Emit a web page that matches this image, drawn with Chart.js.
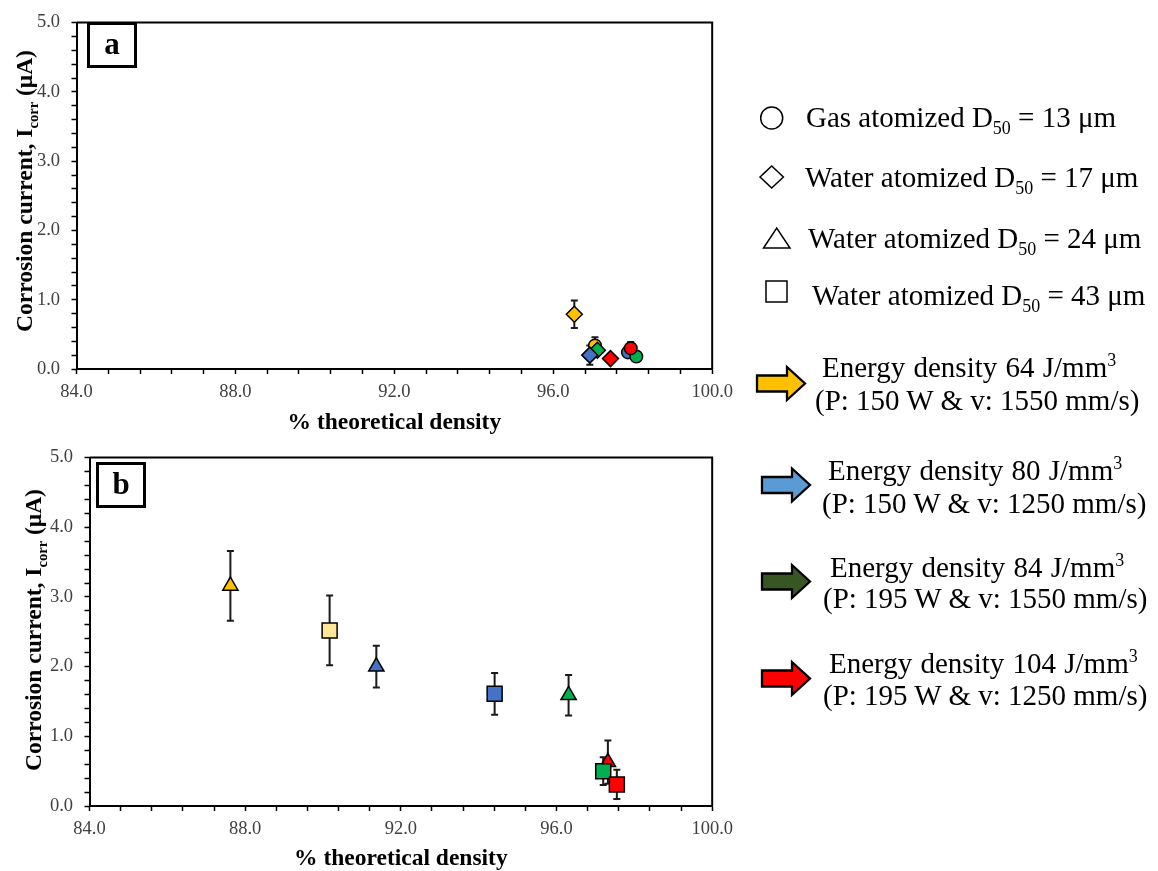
<!DOCTYPE html>
<html>
<head>
<meta charset="utf-8">
<title>Corrosion current vs theoretical density</title>
<script src="https://cdn.jsdelivr.net/npm/chart.js@4.4.0/dist/chart.umd.min.js"></script>
<style>
  body { margin: 0; background: #fff; font-family: "Liberation Serif", "Times New Roman", serif; }
  #page { position: relative; width: 1158px; height: 871px; overflow: hidden; }
  canvas { position: absolute; left: 0; }
  .ytitle { position: absolute; font-weight: bold; font-size: 23.5px; line-height: 24px; white-space: nowrap; transform: translate(-50%, -50%) rotate(-90deg); }
  .tag { position: absolute; box-sizing: border-box; border: 3px solid #000; width: 50px; height: 46px; font-weight: bold; font-size: 31px; line-height: 38px; text-align: center; }
  .leg { position: absolute; font-size: 29px; line-height: 28px; white-space: nowrap; }
  sub, sup { font-size: 0.62em; line-height: 0; }
  #symbols { position: absolute; left: 0; top: 0; }
</style>
</head>
<body>
<div id="page">
  <canvas id="chartA" width="740" height="435" style="top:0"></canvas>
  <canvas id="chartB" width="740" height="436" style="top:435px"></canvas>

  <div class="ytitle" style="left:24px; top:191px">Corrosion current, I<sub>corr</sub> (μA)</div>
  <div class="ytitle" style="left:33px; top:630px">Corrosion current, I<sub>corr</sub> (μA)</div>
  <div class="tag" style="left:87px; top:22px">a</div>
  <div class="tag" style="left:96px; top:462px">b</div>

  <svg id="symbols" width="1158" height="871">
    <g fill="#fff" stroke="#000" stroke-width="1.5">
      <circle cx="771.7" cy="118" r="11"/>
      <polygon points="760,177 771.7,166 783.4,177 771.7,188"/>
      <polygon points="763.5,248 790,248 776.7,228"/>
      <rect x="766" y="281" width="21" height="21"/>
    </g>
    <g id="arrows" stroke="#000" stroke-width="2.3"></g>
  </svg>

  <div class="leg" style="left:806px; top:103px">Gas atomized D<sub>50</sub> = 13 μm</div>
  <div class="leg" style="left:805px; top:163px">Water atomized D<sub>50</sub> = 17 μm</div>
  <div class="leg" style="left:808px; top:224px">Water atomized D<sub>50</sub> = 24 μm</div>
  <div class="leg" style="left:812px; top:281px">Water atomized D<sub>50</sub> = 43 μm</div>

  <div id="energyLegend"></div>
</div>

<script>
// powders (marker shape) and energy densities (marker colour)
const powders = ["Gas atomized D50 = 13 μm", "Water atomized D50 = 17 μm", "Water atomized D50 = 24 μm", "Water atomized D50 = 43 μm"];
const energies = [64, 80, 84, 104];
const powerW = [150, 150, 195, 195];
const speedMms = [1550, 1250, 1550, 1250];
const xTickLabels = [84, 88, 92, 96, 100];
const yTickLabels = [0, 1, 2, 3, 4, 5];

// panel a
const aDensity = [96.53, 97.05, 97.11, 96.92, 97.44, 97.88, 98.09, 97.95];
const aCurrent = [0.79, 0.34, 0.27, 0.20, 0.15, 0.24, 0.18, 0.30];
const aError   = [0.20, 0.12, 0.05, 0.14, 0.05, 0.05, 0.05, 0.09];
const aPowder  = [1, 0, 1, 1, 1, 0, 0, 0];
const aEnergy  = [0, 0, 2, 1, 3, 1, 2, 3];

// panel b
const bDensity = [87.62, 90.17, 91.37, 94.41, 96.31, 97.32, 97.20, 97.55];
const bCurrent = [3.16, 2.52, 2.00, 1.61, 1.59, 0.63, 0.50, 0.31];
const bError   = [0.50, 0.50, 0.30, 0.30, 0.29, 0.31, 0.20, 0.21];
const bPowder  = [2, 3, 2, 3, 2, 2, 3, 3];
const bEnergy  = [0, 0, 1, 1, 2, 3, 2, 3];

// styles
const markerColors = ["#FFC000", "#4472C4", "#00B050", "#FF0000"];
const lightYellow = "#FFE699";
const arrowColors = ["#FFC000", "#5B9BD5", "#375623", "#FF0000"];
const shapes = ["circle", "rectRot", "triangle", "rect"];
const radii = [6.3, 8, 8.8, 10.6];
const serif = '"Liberation Serif", "Times New Roman", serif';

const errorBars = {
    id: "errorBars",
    beforeDatasetsDraw(chart, args, opts) {
        const { ctx, scales: { x, y } } = chart;
        const pts = chart.data.datasets[0].data;
        ctx.save();
        ctx.strokeStyle = "#1a1a1a";
        ctx.lineWidth = 2;
        pts.forEach((p, i) => {
            const e = opts.values[i];
            if (!e) return;
            const px = x.getPixelForValue(p.x);
            const top = y.getPixelForValue(p.y + e);
            const bot = y.getPixelForValue(p.y - e);
            ctx.beginPath();
            ctx.moveTo(px, top); ctx.lineTo(px, bot);
            ctx.moveTo(px - 3.5, top); ctx.lineTo(px + 3.5, top);
            ctx.moveTo(px - 3.5, bot); ctx.lineTo(px + 3.5, bot);
            ctx.stroke();
        });
        ctx.restore();
    }
};

// top and right sides of the plot frame
const frame = {
    id: "frame",
    afterDraw(chart) {
        const { ctx, chartArea: a } = chart;
        ctx.save();
        ctx.strokeStyle = "#000";
        ctx.lineWidth = 2;
        ctx.beginPath();
        ctx.moveTo(a.left, a.top);
        ctx.lineTo(a.right, a.top);
        ctx.lineTo(a.right, a.bottom);
        ctx.stroke();
        ctx.restore();
    }
};

function isLabelled(v, list) {
    return list.some(t => Math.abs(t - v) < 1e-6);
}

function makePanel(id, density, current, error, powder, fills, box) {
    const ctx = document.getElementById(id).getContext("2d");
    return new Chart(ctx, {
        type: "scatter",
        data: {
            datasets: [{
                data: density.map((d, i) => ({ x: d, y: current[i] })),
                pointStyle: c => shapes[powder[c.dataIndex]],
                pointRadius: c => radii[powder[c.dataIndex]],
                backgroundColor: c => fills[c.dataIndex],
                borderColor: "#000",
                borderWidth: 1.5,
                clip: false
            }]
        },
        options: {
            responsive: false,
            animation: false,
            devicePixelRatio: 1,
            layout: { padding: { top: box.top, right: box.right, left: 0, bottom: 0 } },
            plugins: {
                legend: { display: false },
                tooltip: { enabled: false },
                errorBars: { values: error }
            },
            scales: {
                x: {
                    type: "linear",
                    min: 84, max: 100,
                    afterFit: s => { s.height = box.xHeight; },
                    border: { display: true, color: "#000", width: 2 },
                    grid: { drawOnChartArea: false, tickLength: 5, tickColor: "#000", tickWidth: 1.5 },
                    ticks: {
                        stepSize: 0.8,
                        autoSkip: false,
                        maxRotation: 0,
                        padding: 7,
                        color: "#404040",
                        font: { family: serif, size: 18.5 },
                        callback: v => isLabelled(v, xTickLabels) ? v.toFixed(1) : ""
                    },
                    title: {
                        display: true,
                        text: "% theoretical density",
                        color: "#000",
                        font: { family: serif, size: 23.5, weight: "bold" },
                        padding: { top: 0, bottom: -2 }
                    }
                },
                y: {
                    type: "linear",
                    min: 0, max: 5,
                    afterFit: s => { s.width = box.yWidth; },
                    border: { display: true, color: "#000", width: 2 },
                    grid: { drawOnChartArea: false, tickLength: 5, tickColor: "#000", tickWidth: 1.5 },
                    ticks: {
                        stepSize: 0.2,
                        autoSkip: false,
                        padding: 11.5,
                        color: "#404040",
                        font: { family: serif, size: 18.5 },
                        callback: v => isLabelled(v, yTickLabels) ? v.toFixed(1) : ""
                    }
                }
            }
        },
        plugins: [errorBars, frame]
    });
}

const aFills = aEnergy.map(e => markerColors[e]);
const bFills = bEnergy.map((e, i) => (e === 0 && bPowder[i] === 3) ? lightYellow : markerColors[e]);

makePanel("chartA", aDensity, aCurrent, aError, aPowder, aFills,
    { top: 12, right: 23.5, yWidth: 76.5, xHeight: 66 });
makePanel("chartB", bDensity, bCurrent, bError, bPowder, bFills,
    { top: 17, right: 19.5, yWidth: 89.5, xHeight: 65 });

// energy density legend: arrow + two lines of text
const arrowPos = [[757, 383.5], [762, 485], [762, 581.5], [762, 678.5]];
const line1Pos = [[822, 353], [828, 456], [830, 553], [829, 649]];
const line2Pos = [[815, 386], [822, 489], [823, 584], [823, 681]];
const arrowGroup = document.getElementById("arrows");
const legendBox = document.getElementById("energyLegend");

energies.forEach((e, i) => {
    const [x0, cy] = arrowPos[i];
    const path = document.createElementNS("http://www.w3.org/2000/svg", "path");
    path.setAttribute("d", `M${x0},${cy - 8} L${x0 + 30},${cy - 8} L${x0 + 30},${cy - 16.5} L${x0 + 48},${cy} ` +
        `L${x0 + 30},${cy + 16.5} L${x0 + 30},${cy + 8} L${x0},${cy + 8} Z`);
    path.setAttribute("fill", arrowColors[i]);
    arrowGroup.appendChild(path);

    const l1 = document.createElement("div");
    l1.className = "leg";
    l1.style.left = line1Pos[i][0] + "px";
    l1.style.top = line1Pos[i][1] + "px";
    l1.style.wordSpacing = "1px";
    l1.innerHTML = `Energy density ${e} J/mm<sup>3</sup>`;
    legendBox.appendChild(l1);

    const l2 = document.createElement("div");
    l2.className = "leg";
    l2.style.left = line2Pos[i][0] + "px";
    l2.style.top = line2Pos[i][1] + "px";
    l2.textContent = `(P: ${powerW[i]} W & v: ${speedMms[i]} mm/s)`;
    legendBox.appendChild(l2);
});
</script>
</body>
</html>
